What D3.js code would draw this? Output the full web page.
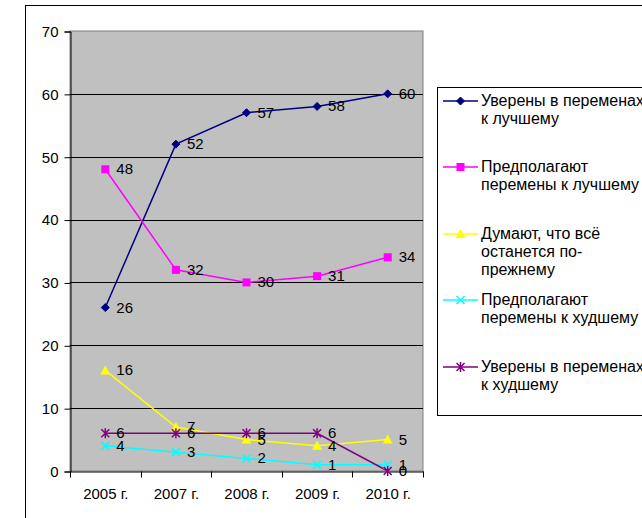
<!DOCTYPE html>
<html>
<head>
<meta charset="utf-8">
<script src="https://cdn.jsdelivr.net/npm/d3@7"></script>
<style>
  body { margin: 0; background: #fff; }
  svg { display: block; font-family: Arial, "Liberation Sans", sans-serif; }
</style>
</head>
<body>
<div id="chart"></div>
<script>
// Data
const years = ["2005 г.", "2007 г.", "2008 г.", "2009 г.", "2010 г."];
const sureBetter = [26, 52, 57, 58, 60];
const expectBetter = [48, 32, 30, 31, 34];
const sameAsBefore = [16, 7, 5, 4, 5];
const expectWorse = [4, 3, 2, 1, 1];
const sureWorse = [6, 6, 6, 6, 0];
const seriesNames = [
  ["Уверены в переменах", "к лучшему"],
  ["Предполагают", "перемены к лучшему"],
  ["Думают, что всё", "останется по-", "прежнему"],
  ["Предполагают", "перемены к худшему"],
  ["Уверены в переменах", "к худшему"]
];
const yTicks = [0, 10, 20, 30, 40, 50, 60, 70];

const series = [
  { values: sureBetter, color: "#000080", marker: "diamond" },
  { values: expectBetter, color: "#FF00FF", marker: "square" },
  { values: sameAsBefore, color: "#FFFF00", marker: "triangle" },
  { values: expectWorse, color: "#00FFFF", marker: "cross" },
  { values: sureWorse, color: "#800080", marker: "star" }
];

const width = 642, height = 518;
const plot = { left: 70, right: 423, top: 31, bottom: 471 };

const svg = d3.select("#chart")
  .append("svg")
  .attr("width", width)
  .attr("height", height);

// outer chart border
svg.append("rect")
  .attr("x", 25.5).attr("y", 5.5)
  .attr("width", 700).attr("height", 600)
  .attr("fill", "#fff").attr("stroke", "#000");

// scales
const xScale = d3.scaleBand()
  .domain(years)
  .range([plot.left, plot.right]);

const yScale = d3.scaleLinear()
  .domain([0, 70])
  .range([plot.bottom, plot.top]);

const cx = i => xScale(years[i]) + xScale.bandwidth() / 2;

// plot background
svg.append("rect")
  .attr("x", plot.left).attr("y", plot.top)
  .attr("width", plot.right - plot.left).attr("height", plot.bottom - plot.top)
  .attr("fill", "#C0C0C0")
  .attr("stroke", "#808080");

// gridlines
svg.append("g")
  .selectAll("line")
  .data(yTicks.filter(t => t > 0 && t < 70))
  .enter()
  .append("line")
  .attr("x1", plot.left).attr("x2", plot.right)
  .attr("y1", d => Math.round(yScale(d)) + 0.5)
  .attr("y2", d => Math.round(yScale(d)) + 0.5)
  .attr("stroke", "#000");

// y axis
const yAxis = svg.append("g")
  .attr("transform", `translate(${plot.left + 0.5}, 0.5)`)
  .call(d3.axisLeft(yScale).tickValues(yTicks).tickSize(6).tickPadding(6));
yAxis.selectAll("text").attr("font-size", 15).attr("font-family", "Arial, 'Liberation Sans'").attr("fill", "#000");
yAxis.selectAll("line, path").attr("stroke", "#000");

// x axis
const xAxis = svg.append("g")
  .attr("transform", `translate(0.5, ${plot.bottom + 0.5})`)
  .call(d3.axisBottom(xScale).tickSize(0).tickPadding(17));
xAxis.selectAll("text").attr("font-size", 15).attr("font-family", "Arial, 'Liberation Sans'").attr("fill", "#000");
xAxis.select("path").attr("stroke", "#000");
xAxis.selectAll(".bound")
  .data(d3.range(years.length + 1))
  .enter()
  .append("line")
  .attr("x1", i => Math.round(plot.left + i * xScale.bandwidth()))
  .attr("x2", i => Math.round(plot.left + i * xScale.bandwidth()))
  .attr("y1", 0).attr("y2", 6)
  .attr("stroke", "#000");

// marker drawing
function drawMarker(g, type, color, x, y) {
  if (type === "diamond") {
    g.append("path")
      .attr("d", `M${x},${y - 4}L${x + 4},${y}L${x},${y + 4}L${x - 4},${y}Z`)
      .attr("fill", color).attr("stroke", color);
  } else if (type === "square") {
    g.append("rect")
      .attr("x", x - 4).attr("y", y - 4).attr("width", 8).attr("height", 8)
      .attr("fill", color);
  } else if (type === "triangle") {
    g.append("path")
      .attr("d", `M${x},${y - 5}L${x + 5},${y + 4}L${x - 5},${y + 4}Z`)
      .attr("fill", color);
  } else if (type === "cross") {
    g.append("path")
      .attr("d", `M${x - 4},${y - 4}L${x + 4},${y + 4}M${x + 4},${y - 4}L${x - 4},${y + 4}`)
      .attr("stroke", color).attr("stroke-width", 1.5);
  } else if (type === "star") {
    g.append("path")
      .attr("d", `M${x - 4},${y - 4}L${x + 4},${y + 4}M${x + 4},${y - 4}L${x - 4},${y + 4}M${x},${y - 5}L${x},${y + 5}`)
      .attr("stroke", color).attr("stroke-width", 1.5);
  }
}

const line = d3.line()
  .x((d, i) => cx(i))
  .y(d => yScale(d));

// series lines
series.forEach(s => {
  svg.append("path")
    .datum(s.values)
    .attr("d", line)
    .attr("fill", "none")
    .attr("stroke", s.color)
    .attr("stroke-width", 1.5);
});

// markers
series.forEach(s => {
  const g = svg.append("g");
  s.values.forEach((v, i) => drawMarker(g, s.marker, s.color, cx(i), yScale(v)));
});

// data labels
series.forEach(s => {
  svg.append("g")
    .selectAll("text")
    .data(s.values)
    .enter()
    .append("text")
    .attr("x", (d, i) => cx(i) + 11)
    .attr("y", d => yScale(d) + 5)
    .attr("font-size", 15)
    .attr("fill", "#000")
    .text(d => d);
});

// legend
const legend = svg.append("g");
legend.append("rect")
  .attr("x", 437.5).attr("y", 87.5)
  .attr("width", 300).attr("height", 328)
  .attr("fill", "#fff").attr("stroke", "#000");

const legendY = [101, 167, 234, 300, 367];
series.forEach((s, k) => {
  const y = legendY[k];
  legend.append("line")
    .attr("x1", 443).attr("x2", 478)
    .attr("y1", y).attr("y2", y)
    .attr("stroke", s.color).attr("stroke-width", 1.5);
  drawMarker(legend, s.marker, s.color, 460.5, y);
  seriesNames[k].forEach((t, j) => {
    legend.append("text")
      .attr("x", 481)
      .attr("y", y + 5 + j * 18)
      .attr("font-size", 16)
      .attr("fill", "#000")
      .text(t);
  });
});
</script>
</body>
</html>
